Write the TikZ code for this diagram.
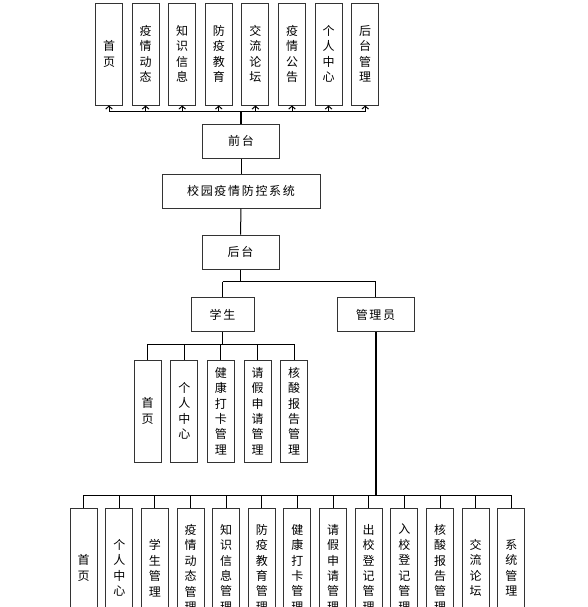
\documentclass[tikz,border=0pt]{standalone}
\usepackage{fontspec}
\setmainfont{Noto Sans CJK SC}
\newfontfamily\widecjk[LetterSpace=14]{Noto Sans CJK SC}
\usepackage{tikz}
\usetikzlibrary{positioning,calc,arrows.meta}
\definecolor{BoxLine}{HTML}{333333}

\tikzset{
  vbox/.style={draw=BoxLine, line width=0.75pt, minimum width=20.25pt, minimum height=76.5pt,
               inner sep=0pt, align=center, font=\fontsize{9}{11.6}\selectfont},
  lbox/.style={vbox, minimum height=90pt},
  hbox/.style={draw=BoxLine, line width=0.75pt, minimum height=25.5pt, inner sep=0pt,
               font=\widecjk\fontsize{9}{11}\selectfont},
  link/.style={line width=0.75pt},
  mainlink/.style={line width=1.5pt},
  uparrow/.style={link, -{Straight Barb[length=2.2pt,width=5pt]}}
}

\begin{document}
\begin{tikzpicture}[x=0.75pt,y=-0.75pt]
  \useasboundingbox (0,0) rectangle (588,607);
  \clip (0,0) rectangle (588,607);
  % bus heights
  \coordinate (busT) at (0,111.7);
  \coordinate (busH) at (0,281.7);
  \coordinate (busS) at (0,344.3);
  \coordinate (busA) at (0,495.3);

  % front pages
  \foreach \lab [count=\i] in {{首\\页},{疫\\情\\动\\态},{知\\识\\信\\息},{防\\疫\\教\\育},
      {交\\流\\论\\坛},{疫\\情\\公\\告},{个\\人\\中\\心},{后\\台\\管\\理}}{
     \node[vbox] (t\i) at ({109+36.6*(\i-1)},54) {\lab};}

  % main column
  \node[hbox, minimum width=57.75pt] (qiantai) at (241,141) {前台};
  \node[hbox, minimum width=118.5pt] (xitong) at (241,191) {校园疫情防控系统};
  \node[hbox, minimum width=57.75pt] (houtai) at (240.5,252) {后台};
  \node[hbox, minimum width=47.25pt] (xuesheng) at (222.5,314.5) {学生};
  \node[hbox, minimum width=57.75pt] (guanli) at (375.5,314.5) {管理员};

  % student pages
  \foreach \lab [count=\i] in {{首\\页},{个\\人\\中\\心},{健\\康\\打\\卡\\管\\理},
      {请\\假\\申\\请\\管\\理},{核\\酸\\报\\告\\管\\理}}{
     \node[vbox] (s\i) at ({147.7+36.6*(\i-1)},411) {\lab};}

  % admin pages
  \foreach \lab [count=\i] in {{首\\页},{个\\人\\中\\心},{学\\生\\管\\理},{疫\\情\\动\\态\\管\\理},
      {知\\识\\信\\息\\管\\理},{防\\疫\\教\\育\\管\\理},{健\\康\\打\\卡\\管\\理},
      {请\\假\\申\\请\\管\\理},{出\\校\\登\\记\\管\\理},{入\\校\\登\\记\\管\\理},
      {核\\酸\\报\\告\\管\\理},{交\\流\\论\\坛},{系\\统\\管\\理}}{
     \node[lbox] (a\i) at ({83.7+35.63*(\i-1)},568) {\lab};}

  % front links
  \draw[mainlink] (qiantai.north) -- (qiantai.north |- busT);
  \draw[link] (t1.south |- busT) -- (t8.south |- busT);
  \foreach \i in {1,...,8}{\draw[uparrow] (t\i.south |- busT) -- (t\i.south);}
  \draw[link] (qiantai) -- (xitong);
  \draw[link] (xitong) -- (houtai);

  % back links
  \draw[link] (houtai.south) -- (houtai.south |- busH);
  \draw[link] (xuesheng.north |- busH) -- (guanli.north |- busH);
  \draw[link] (xuesheng.north |- busH) -- (xuesheng.north);
  \draw[link] (guanli.north |- busH) -- (guanli.north);

  % student links
  \draw[link] (xuesheng.south) -- (xuesheng.south |- busS);
  \draw[link] (s1.north |- busS) -- (s5.north |- busS);
  \foreach \i in {1,...,5}{\draw[link] (s\i.north |- busS) -- (s\i.north);}

  % admin links
  \draw[mainlink] (guanli.south) -- (guanli.south |- busA);
  \draw[link] (a1.north |- busA) -- (a13.north |- busA);
  \foreach \i in {1,...,13}{\draw[link] (a\i.north |- busA) -- (a\i.north);}
\end{tikzpicture}
\end{document}
